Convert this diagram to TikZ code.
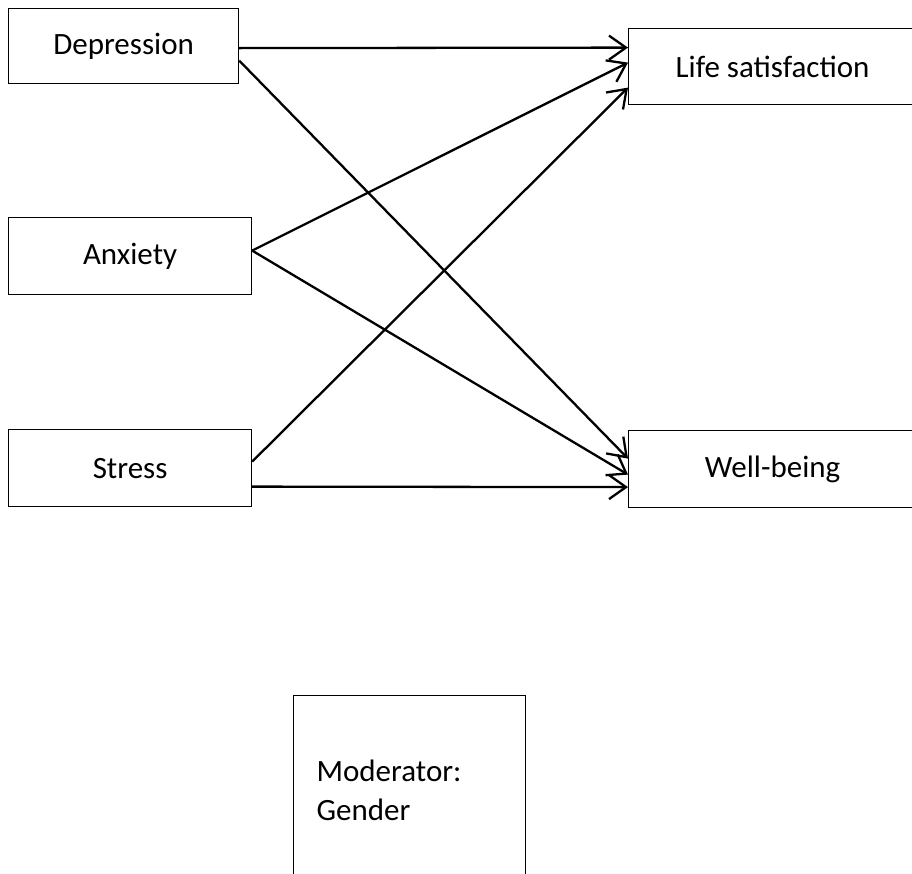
\documentclass[tikz,border=0pt]{standalone}
\usepackage{fontspec}
\setmainfont{Carlito}
\usetikzlibrary{arrows.meta,calc}

\begin{document}
\begin{tikzpicture}[x=1pt, y=-1pt,
	box/.style={draw, line width=1.2pt, inner sep=0pt, anchor=north west, font=\fontsize{31}{39}\selectfont},
	link/.style={-{Straight Barb[length=17pt, width=24pt]}, line width=2.3pt}]
	\useasboundingbox (0,0) rectangle (912,873);
	\clip (0,0) rectangle (912,873);

	% predictors
	\node[box, minimum width=230, minimum height=75] (dep) at (8,8) {Depression};
	\node[box, minimum width=243, minimum height=77] (anx) at (8,217) {Anxiety};
	\node[box, minimum width=243, minimum height=77] (str) at (8,429) {Stress};

	% outcomes (run past the right edge)
	\node[box, minimum width=288, minimum height=76] (life) at (628,28) {Life satisfaction};
	\node[box, minimum width=288, minimum height=77] (well) at (628,430) {Well-being};

	% moderator (cut off at the bottom)
	\node[box, minimum width=232, minimum height=190, text width=186, inner xsep=23pt, align=left] (mod) at (293,695) {Moderator:\\Gender};

	% paths
	\draw[link] ($(dep.east)+(0,2)$) -- ($(life.west)+(0,-19)$);
	\draw[link] ($(dep.east)+(0,14.5)$) -- ($(well.west)+(0,-10.5)$);
	\draw[link] ($(anx.east)+(0,-5.5)$) -- ($(life.west)+(0,-4)$);
	\draw[link] ($(anx.east)+(0,-5.5)$) -- ($(well.west)+(0,5.5)$);
	\draw[link] ($(str.east)+(0,-6.5)$) -- ($(life.west)+(0,21)$);
	\draw[link] ($(str.east)+(0,18.5)$) -- ($(well.west)+(0,18)$);
\end{tikzpicture}
\end{document}
